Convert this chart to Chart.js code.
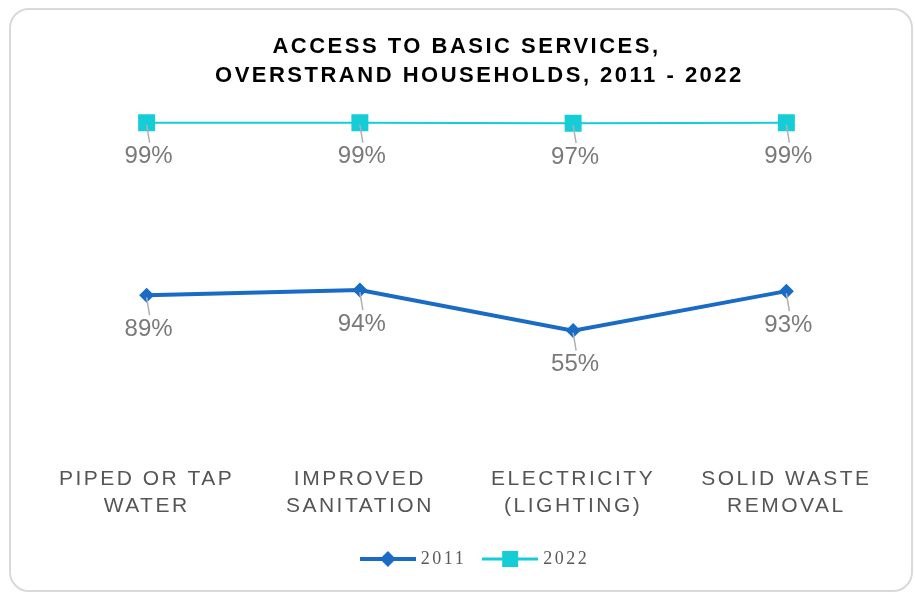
<!DOCTYPE html>
<html>
<head>
<meta charset="utf-8">
<script src="https://cdn.jsdelivr.net/npm/chart.js@4.4.0/dist/chart.umd.min.js"></script>
<style>
  html, body { margin: 0; padding: 0; background: #fff; }
  #card { position: absolute; left: 9px; top: 8px; width: 900px; height: 580px; border: 2px solid #d9d9d9; border-radius: 20px; }
  #wrap { position: absolute; left: 0; top: 0; width: 915px; height: 595px; }
</style>
</head>
<body>
<div id="card"></div>
<div id="wrap"><canvas id="myChart"></canvas></div>
<script>
// categories (x axis)
var categories = [
  ["PIPED OR TAP", "WATER"],
  ["IMPROVED", "SANITATION"],
  ["ELECTRICITY", "(LIGHTING)"],
  ["SOLID WASTE", "REMOVAL"]
];
var seriesNames = ["2011", "2022"];
var values2011 = [89, 94, 55, 93];
var values2022 = [99, 99, 97, 99];

var titleLines = ["ACCESS TO BASIC SERVICES,", "   OVERSTRAND HOUSEHOLDS, 2011 - 2022"];

var blue = "#1a6bc5";
var cyan = "#14cdd7";

// legend icon: line with marker in the middle
function makeIcon(color, style, lineW) {
  var c = document.createElement("canvas");
  c.width = 56; c.height = 20;
  var x = c.getContext("2d");
  x.strokeStyle = color;
  x.lineWidth = lineW;
  x.beginPath(); x.moveTo(0, 10); x.lineTo(56, 10); x.stroke();
  x.fillStyle = color;
  if (style === "diamond") {
    x.beginPath(); x.moveTo(28, 2); x.lineTo(36, 10); x.lineTo(28, 18); x.lineTo(20, 10); x.closePath(); x.fill();
  } else {
    x.fillRect(20, 2, 16, 16);
  }
  return c;
}
var icons = [makeIcon(blue, "diamond", 4), makeIcon(cyan, "square", 3)];

// percentage labels under each point, with a small leader line
var labelPlugin = {
  id: "pctLabels",
  beforeDraw: function (chart) { chart.ctx.letterSpacing = "2.5px"; },
  beforeDatasetsDraw: function (chart) { chart.ctx.letterSpacing = "0px"; },
  afterDatasetsDraw: function (chart) {
    var ctx = chart.ctx;
    ctx.save();
    ctx.font = '24px "Liberation Sans", Arial, sans-serif';
    ctx.fillStyle = "#7a7a7a";
    ctx.textAlign = "center";
    ctx.textBaseline = "middle";
    chart.data.datasets.forEach(function (ds, i) {
      var meta = chart.getDatasetMeta(i);
      meta.data.forEach(function (pt, j) {
        var ly = pt.y + 34;
        ctx.strokeStyle = "#b0b0b0";
        ctx.lineWidth = 1.5;
        ctx.beginPath(); ctx.moveTo(pt.x, pt.y + 2); ctx.lineTo(pt.x + 3, ly - 14); ctx.stroke();
        ctx.fillText(ds.data[j] + "%", pt.x + 2, ly);
      });
    });
    ctx.restore();
  },
  afterDraw: function (chart) { chart.ctx.letterSpacing = "2.5px"; }
};

var ctx = document.getElementById("myChart").getContext("2d");
var myChart = new Chart(ctx, {
  type: "line",
  data: {
    labels: categories,
    datasets: [
      {
        label: seriesNames[0],
        data: values2011,
        yAxisID: "y",
        borderColor: blue,
        backgroundColor: blue,
        borderWidth: 4,
        pointStyle: "rectRot",
        pointRadius: 7.5,
        pointHoverRadius: 7.5,
        pointBorderWidth: 0,
        tension: 0
      },
      {
        label: seriesNames[1],
        data: values2022,
        yAxisID: "y2",
        borderColor: cyan,
        backgroundColor: cyan,
        borderWidth: 2,
        pointStyle: "rect",
        pointRadius: 12,
        pointHoverRadius: 12,
        pointBorderWidth: 0,
        tension: 0
      }
    ]
  },
  options: {
    responsive: true,
    maintainAspectRatio: false,
    animation: false,
    layout: { padding: { left: 40, right: 22, top: 10, bottom: 17 } },
    scales: {
      x: {
        offset: true,
        grid: { display: false, drawTicks: false },
        border: { display: false },
        afterFit: function (scale) { scale.height -= 4; },
        ticks: {
          color: "#555555",
          autoSkip: false,
          maxRotation: 0,
          padding: 14,
          font: { family: '"Liberation Sans", Arial, sans-serif', size: 21, lineHeight: 1.28 }
        }
      },
      y: { display: false, min: -62.1, max: 267.3 },
      y2: { display: false, min: -1230.1, max: 149.9 }
    },
    plugins: {
      title: {
        display: true,
        text: titleLines,
        color: "#000",
        font: { family: '"Liberation Sans", Arial, sans-serif', size: 22, weight: "bold", lineHeight: 1.32 },
        padding: { top: 22, bottom: 20 }
      },
      legend: {
        position: "bottom",
        labels: {
          usePointStyle: true,
          pointStyleWidth: 48,
          padding: 20,
          color: "#595959",
          font: { family: '"Liberation Serif", "DejaVu Serif", serif', size: 18 },
          generateLabels: function (chart) {
            var items = Chart.defaults.plugins.legend.labels.generateLabels(chart);
            items.forEach(function (it, i) { it.pointStyle = icons[i]; });
            return items;
          }
        }
      },
      tooltip: { enabled: false }
    }
  },
  plugins: [labelPlugin]
});
</script>
</body>
</html>
